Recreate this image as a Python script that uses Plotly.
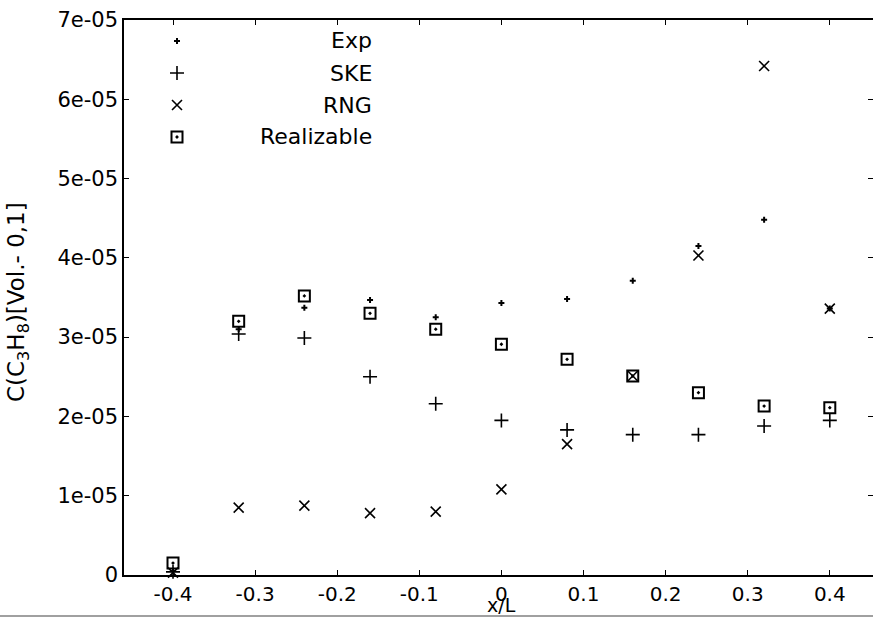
import plotly.graph_objects as go

# ---------------- data ----------------
x_vals = [-0.4, -0.32, -0.24, -0.16, -0.08, 0.0, 0.08, 0.16, 0.24, 0.32, 0.4]

exp_vals = [0.05e-5, 3.10e-5, 3.37e-5, 3.47e-5, 3.25e-5, 3.43e-5, 3.48e-5, 3.71e-5, 4.15e-5, 4.48e-5, 3.36e-5]
ske_vals = [0.04e-5, 3.04e-5, 2.99e-5, 2.50e-5, 2.16e-5, 1.95e-5, 1.83e-5, 1.77e-5, 1.77e-5, 1.88e-5, 1.95e-5]
rng_vals = [0.03e-5, 0.85e-5, 0.875e-5, 0.78e-5, 0.80e-5, 1.08e-5, 1.65e-5, 2.51e-5, 4.03e-5, 6.42e-5, 3.36e-5]
real_vals = [0.15e-5, 3.20e-5, 3.52e-5, 3.30e-5, 3.10e-5, 2.91e-5, 2.72e-5, 2.51e-5, 2.30e-5, 2.13e-5, 2.11e-5]

series_names = ["Exp", "SKE", "RNG", "Realizable"]

x_tickvals = [-0.4, -0.3, -0.2, -0.1, 0.0, 0.1, 0.2, 0.3, 0.4]
x_ticktext = ["-0.4", "-0.3", "-0.2", "-0.1", "0", "0.1", "0.2", "0.3", "0.4"]
y_tickvals = [0, 1e-5, 2e-5, 3e-5, 4e-5, 5e-5, 6e-5, 7e-5]
y_ticktext = ["0", "1e-05", "2e-05", "3e-05", "4e-05", "5e-05", "6e-05", "7e-05"]

x_title = "x/L"
y_title = "C(C<sub>3</sub>H<sub>8</sub>)[Vol.- 0,1]"

# ---------------- styles ----------------
FONT = "DejaVu Sans"
W, H = 873, 617
ML, MR, MT, MB = 124, 0, 20, 42
PW, PH = W - ML - MR, H - MT - MB

marker_styles = {
    "Exp": dict(symbol="cross", size=5, color="black", line=dict(width=0)),
    "SKE": dict(symbol="cross-thin", size=10, color="black", line=dict(width=1.6, color="black")),
    "RNG": dict(symbol="x-thin", size=10, color="black", line=dict(width=1.6, color="black")),
    "Realizable": dict(symbol="square-open-dot", size=11, color="black", line=dict(width=2, color="black")),
}

fig = go.Figure()
for name, vals in zip(series_names, [exp_vals, ske_vals, rng_vals, real_vals]):
    fig.add_trace(go.Scatter(x=x_vals, y=vals, mode="markers", name=name,
                             marker=marker_styles[name], showlegend=False,
                             cliponaxis=False))

# manual legend (symbols on an overlay axis, right-aligned labels)
leg_px_y = [41, 73, 105, 137]
leg_sym_x = (177 - ML) / PW
leg_txt_x = (374 - ML) / PW
for name, py in zip(series_names, leg_px_y):
    yy = (H - MB - py) / PH
    fig.add_trace(go.Scatter(x=[leg_sym_x], y=[yy], mode="markers", xaxis="x2", yaxis="y2",
                             marker=marker_styles[name], showlegend=False, hoverinfo="skip"))
    fig.add_annotation(x=leg_txt_x, y=yy, xref="paper", yref="paper", text=name,
                       showarrow=False, xanchor="right", yanchor="middle",
                       font=dict(family=FONT, size=22, color="black"))

xr = [-0.4 - (173 - ML) / 821.0, -0.4 - (173 - ML) / 821.0 + PW / 821.0]

fig.update_layout(
    width=W, height=H,
    margin=dict(l=ML, r=MR, t=MT, b=MB, pad=0),
    paper_bgcolor="white", plot_bgcolor="white",
    font=dict(family=FONT, size=21, color="black"),
    showlegend=False,
    xaxis=dict(range=xr, tickvals=x_tickvals, ticktext=x_ticktext,
               ticks="inside", ticklen=5, tickwidth=1, tickcolor="black",
               showline=True, linecolor="black", linewidth=1.5, mirror="ticks",
               showgrid=False, zeroline=False, tickfont=dict(size=20)),
    yaxis=dict(range=[0, 7e-5], tickvals=y_tickvals, ticktext=y_ticktext,
               ticks="inside", ticklen=5, tickwidth=1, tickcolor="black",
               showline=True, linecolor="black", linewidth=1.5,
               showgrid=False, zeroline=False, tickfont=dict(size=21)),
    yaxis3=dict(range=[0, 7e-5], tickvals=y_tickvals, overlaying="y", side="right",
                anchor="x", ticks="inside", ticklen=5, tickwidth=1, tickcolor="black",
                showticklabels=False, showline=False, showgrid=False, zeroline=False),
    xaxis2=dict(range=[0, 1], overlaying="x", visible=False, anchor="y2"),
    yaxis2=dict(range=[0, 1], overlaying="y", visible=False, anchor="x2"),
)

# dummy trace to show the right-side tick marks
fig.add_trace(go.Scatter(x=[x_vals[0]], y=[exp_vals[0]], yaxis="y3", mode="markers",
                         marker=dict(opacity=0), showlegend=False, hoverinfo="skip"))

# axis titles
fig.add_annotation(x=(18 - ML) / PW, y=(H - MB - 302) / PH, xref="paper", yref="paper", text=y_title,
                   textangle=-90, showarrow=False, xanchor="center", yanchor="middle",
                   font=dict(family=FONT, size=23, color="black"))
fig.add_annotation(x=(502 - ML) / PW, y=(H - MB - 605) / PH, xref="paper", yref="paper",
                   text=x_title, showarrow=False, xanchor="center", yanchor="middle",
                   font=dict(family=FONT, size=19, color="black"))

# thin grey frame line at the bottom of the picture
fig.add_shape(type="line", xref="paper", yref="paper",
              x0=-ML / PW, x1=1.0, y0=(H - MB - 616) / PH, y1=(H - MB - 616) / PH,
              line=dict(color="#a0a0a0", width=2))

fig.write_html("out.html")
